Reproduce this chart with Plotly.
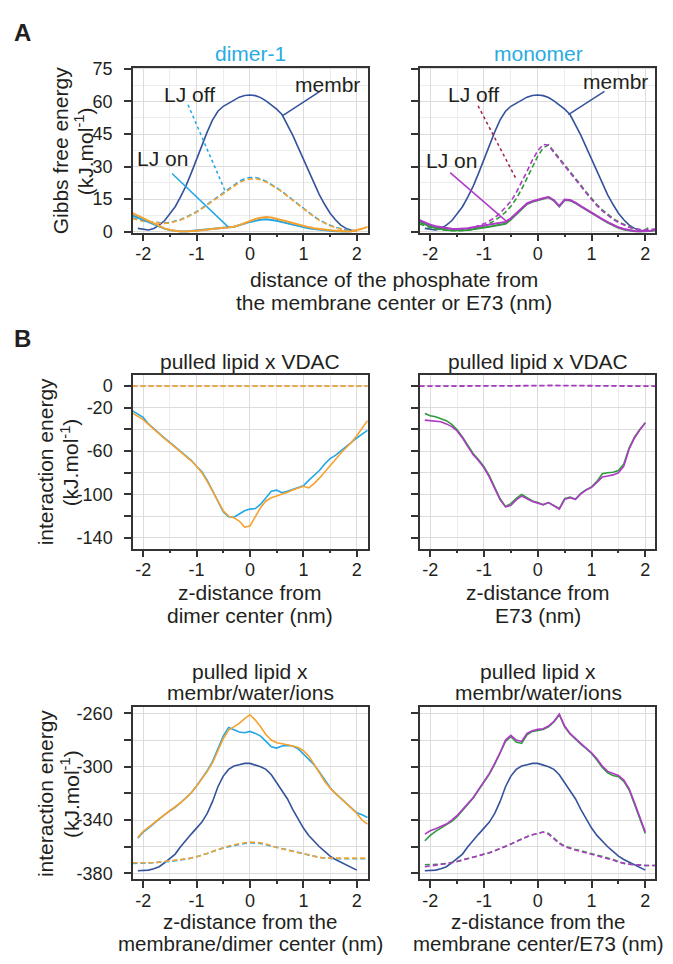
import numpy as np
import plotly.graph_objects as go

# ---- data ----
# panel A, Gibbs free energy (kJ/mol); x grids start at the given value, 0.1 nm step
MEMBR_A_START = -2.1
MEMBR_A = [1.5, 1.0, 0.8, 1.5, 3.0, 5.0, 8.0, 11.5, 16.0, 21.0, 27.0, 33.5, 40.0, 46.0,
           51.5, 55.5, 57.8, 59.3, 60.8, 62.0, 62.8, 63.0, 62.7, 61.8, 60.3, 58.5, 56.5,
           54.0, 49.5, 44.5, 39.0, 33.5, 28.0, 22.5, 17.0, 12.5, 8.5, 5.5, 3.0, 1.5, 0.6, 0.3]

DIMER_OFF_BLUE = [6.3, 5.6, 5.0, 4.6, 4.3, 4.1, 4.0, 4.2, 4.8, 5.6, 6.6, 7.8, 9.2, 10.8,
                  12.6, 14.5, 16.4, 18.2, 19.9, 21.6, 23.2, 24.4, 25.0, 25.0, 24.3, 23.2,
                  21.8, 20.2, 18.5, 16.6, 14.6, 12.6, 10.6, 8.7, 7.0, 5.4, 4.0, 2.9, 2.0,
                  1.3, 0.8, 0.5, 0.4]
DIMER_OFF_ORANGE = [6.1, 5.4, 4.8, 4.4, 4.1, 3.9, 3.8, 4.0, 4.6, 5.4, 6.4, 7.6, 9.0, 10.6,
                    12.3, 14.2, 16.0, 17.8, 19.5, 21.1, 22.6, 23.7, 24.3, 24.4, 23.9, 22.9,
                    21.6, 20.0, 18.3, 16.4, 14.4, 12.4, 10.4, 8.5, 6.8, 5.2, 3.8, 2.7, 1.8,
                    1.1, 0.6, 0.3, 0.2]
DIMER_ON_BLUE = [7.5, 6.6, 5.5, 4.4, 3.3, 2.3, 1.4, 0.7, 0.3, 0.1, 0.1, 0.3, 0.5, 0.8, 1.1,
                 1.4, 1.6, 1.8, 2.0, 2.3, 2.9, 3.7, 4.5, 5.1, 5.5, 5.7, 5.5, 5.0, 4.4, 3.8,
                 3.2, 2.6, 2.1, 1.6, 1.2, 0.9, 0.6, 0.4, 0.2, 0.1, 0.1, 0.1]
DIMER_ON_ORANGE = [8.5, 7.3, 6.0, 4.8, 3.6, 2.5, 1.5, 0.8, 0.3, 0.1, 0.1, 0.2, 0.4, 0.7, 1.0,
                   1.3, 1.6, 1.8, 2.0, 2.3, 3.0, 4.0, 5.0, 5.8, 6.4, 6.7, 6.5, 6.0, 5.4, 4.7,
                   4.0, 3.3, 2.7, 2.1, 1.6, 1.2, 0.9, 0.6, 0.4, 0.2, 0.1, 0.2, 0.6, 1.3, 2.2]

MONO_OFF_PURPLE = [4.5, 3.4, 2.6, 2.0, 1.6, 1.3, 1.1, 1.0, 1.1, 1.4, 1.9, 2.6, 3.6, 4.9, 6.5,
                   8.6, 11.1, 14.0, 18.0, 22.7, 27.8, 33.0, 37.3, 40.2, 39.8, 36.5, 33.5,
                   30.5, 27.3, 24.3, 21.0, 17.8, 14.8, 12.0, 9.6, 7.5, 5.7, 4.2, 3.0, 2.0,
                   1.3, 0.9, 0.8, 1.0, 1.3]
MONO_OFF_GREEN = [3.5, 2.6, 1.9, 1.3, 0.9, 0.6, 0.4, 0.4, 0.5, 0.7, 1.1, 1.7, 2.6, 3.7, 5.1,
                  6.9, 9.0, 11.7, 15.2, 19.6, 24.6, 30.0, 34.8, 38.6, 40.0, 37.0, 34.0, 31.0,
                  27.8, 24.7, 21.5, 18.3, 15.3, 12.5, 10.1, 7.9, 6.1, 4.6, 3.3, 2.2, 1.4,
                  0.9, 0.9, 2.5]
MONO_ON_PURPLE = [5.3, 4.2, 3.2, 2.5, 2.0, 1.6, 1.3, 1.2, 1.3, 1.6, 2.0, 2.4, 2.8, 3.2, 3.6,
                  3.9, 4.5, 6.2, 8.5, 11.0, 13.0, 14.0, 14.8, 15.4, 16.0, 14.5, 11.8, 14.8,
                  14.6, 13.4, 11.8, 10.2, 8.7, 7.2, 5.8, 4.4, 3.1, 2.0, 1.2, 0.6, 0.3, 0.2,
                  0.2, 0.4, 0.8]
MONO_ON_GREEN = [4.5, 3.4, 2.4, 1.7, 1.2, 0.8, 0.6, 0.5, 0.6, 0.8, 1.1, 1.5, 1.9, 2.3, 2.7,
                 3.0, 3.6, 5.6, 8.0, 10.6, 12.7, 13.8, 14.6, 15.2, 15.8, 14.3, 11.6, 14.6,
                 14.4, 13.2, 11.6, 10.0, 8.5, 7.0, 5.6, 4.2, 2.9, 1.8, 1.0, 0.5, 0.2, 0.1,
                 0.1, 0.3, 0.7]

# panel B, pulled lipid x VDAC (kJ/mol)
VDAC_DIMER_BLUE = [-23, -26, -29, -35, -39.5, -44, -48, -52, -56, -60, -64, -68.5, -74, -79,
                   -87, -97, -107, -116, -120.5, -121, -118, -115, -113.5, -113, -109, -103,
                   -97, -96, -98.5, -97, -95.5, -93.5, -92, -87, -82.5, -78, -72, -67, -64,
                   -60, -56, -51.5, -48, -44.5, -41]
VDAC_DIMER_ORANGE = [-25, -28, -31, -35.5, -40, -44.5, -48.5, -52.5, -56.5, -60.5, -64.5, -69,
                     -74, -80, -88, -97, -106, -115, -120, -121.5, -124.5, -130, -129, -121,
                     -112, -106, -103, -101.5, -100, -98, -96, -94, -92.5, -94, -90, -85,
                     -79, -73, -67, -62, -57, -52, -46, -39, -32]
VDAC_MONO_GREEN = [-25.5, -27.5, -28.5, -30, -32, -35.5, -40.5, -47, -55, -62.5, -68, -74.5,
                   -83, -93, -104, -111, -108.5, -103.5, -100, -103, -106, -107.5, -109.5,
                   -107.5, -110, -113, -104, -102.5, -104.5, -99, -95.5, -93, -88, -81, -80,
                   -79.5, -78, -72, -57, -47, -40, -34]
VDAC_MONO_PURPLE = [-31.5, -32, -32.5, -33, -35, -37.5, -41.5, -48, -56, -63.5, -69, -75.5,
                    -84, -94, -105, -111.5, -110, -105, -101.5, -104, -106.5, -108, -109.5,
                    -107.5, -110.5, -113.5, -104.5, -103, -104.5, -99.5, -96, -93.5, -89,
                    -84, -83, -82, -80, -74, -58, -48, -40.5, -34]
# LJ-off curves stay at ~0
VDAC_DASH_X = [-2.2, -1.6, -1.0, -0.5, 0.0, 0.2, 0.5, 1.0, 1.6, 2.2]
VDAC_DIMER_DASH = [-0.3, -0.3, -0.4, -0.5, -0.5, -0.5, -0.4, -0.3, -0.3, -0.3]
VDAC_MONO_DASH = [-0.3, -0.3, -0.2, -0.1, 0.2, 0.4, 0.2, -0.1, -0.2, -0.3]

# panel B, pulled lipid x membr/water/ions (kJ/mol)
ENV_MEMBR = [-378, -378, -377.5, -376.5, -375, -372, -369, -365.5, -360, -355, -350.5, -346,
             -341.5, -335, -326, -315, -307, -302, -299.5, -298.5, -297.5, -297.5, -298.5,
             -300, -302, -306, -312, -318, -324, -332, -339, -346, -351.5, -356, -360,
             -363.5, -367, -369.5, -371.5, -373.5, -376, -377.5]
ENV_DIMER_BLUE = [-353.5, -349, -346, -342.5, -339, -336, -333, -330.5, -327, -323.5, -319.5,
                  -314.5, -309, -303, -296, -286.5, -277, -270.5, -272, -274, -274.5, -273.5,
                  -275, -277, -281, -285, -286, -284.5, -284, -284.5, -286.5, -290.5, -294,
                  -298.5, -304, -310, -315.5, -320, -323.5, -327, -331, -334.5, -336, -338]
ENV_DIMER_ORANGE = [-353, -348.5, -345.5, -342, -339, -336, -333, -330.5, -327, -323.5,
                    -319.5, -314.5, -309, -303.5, -297, -288, -279, -272.5, -270, -267.5,
                    -264, -261, -265, -270, -276, -280, -282, -282.5, -283.5, -284.5, -285.5,
                    -288, -292, -298, -305, -311, -316, -320, -324, -327.5, -331, -335, -340,
                    -343]
ENV_DIMER_DASH_BLUE = [-372.5, -372.5, -372.5, -372.5, -372, -371.5, -371.5, -371, -370.5,
                       -370, -369.5, -368.5, -367.5, -366.5, -365, -363.5, -362, -361, -360,
                       -359, -358, -357.5, -357, -357, -357.5, -358.5, -359.5, -360.5, -361.5,
                       -362.5, -363.5, -364.5, -365.5, -366.5, -367.5, -368, -368.5, -369,
                       -369, -369, -369, -369, -369, -369, -369]
ENV_DIMER_DASH_ORANGE = [-372, -372, -372.5, -372.5, -372, -371.5, -371, -371, -370.5, -370,
                         -369.5, -368.5, -367.5, -366.5, -365, -363.5, -362, -360.5, -359.5,
                         -358.5, -357.5, -357, -356.5, -356.5, -357, -358, -359.5, -360.5,
                         -361.5, -362.5, -363.5, -364.5, -365.5, -366.5, -367.5, -368, -368.5,
                         -368.5, -368.5, -368.5, -368.5, -368.5, -368.5, -368.5, -368.5]
ENV_MONO_GREEN = [-355.5, -351.5, -348.5, -346, -344, -341, -337.5, -333, -328.5, -323.5,
                  -317.5, -311.5, -305.5, -298, -290, -281, -277.5, -281.5, -282.5, -276,
                  -273.5, -272.5, -272, -270, -266.5, -261, -270, -275.5, -279.5, -283,
                  -286.5, -290, -295, -300.5, -304.5, -306.5, -307.5, -311, -317.5, -328,
                  -339, -350]
ENV_MONO_PURPLE = [-350.5, -348, -346.5, -345, -343, -340, -336.5, -332, -327.5, -323, -317,
                   -311, -305, -297.5, -289.5, -280, -276.5, -280, -281, -275, -273, -272,
                   -271.5, -269.5, -266, -260.5, -269.5, -275, -279, -282.5, -286, -289.5,
                   -294, -299.5, -303.5, -305, -306.5, -310, -316.5, -327, -338, -349]
ENV_MONO_DASH_GREEN = [-373.5, -373.5, -373.5, -373, -372.5, -372, -371, -370, -369, -368,
                       -367, -366, -364.5, -363, -361.5, -360, -358, -356, -354, -352.5, -351,
                       -350, -349, -350, -353.5, -357, -359.5, -361, -362, -363, -364, -365,
                       -366, -367, -368, -369.5, -371, -372.5, -373, -373.5, -374, -374,
                       -374, -374]
ENV_MONO_DASH_PURPLE = [-375, -374.5, -374, -373.5, -373, -372, -371, -370, -369, -368, -367,
                        -366, -364.5, -363, -361.5, -360, -358, -356, -354, -352.5, -351,
                        -350, -349, -350.5, -354, -357.5, -360, -361.5, -362.5, -363.5,
                        -364.5, -365.5, -366.5, -367.5, -368.5, -370, -371.5, -372.5, -373,
                        -373.5, -374, -374, -374, -374]

X_TICKS = [-2, -1, 0, 1, 2]
X_MINOR = [-1.5, -0.5, 0.5, 1.5]
A_TICKS = [0, 15, 30, 45, 60, 75]
A_MINOR = [7.5, 22.5, 37.5, 52.5, 67.5]
VDAC_TICKS = [0, -20, -60, -100, -140]      # labelled
VDAC_UNLABELLED = [-40, -80, -120]          # tick + grid, no label
ENV_TICKS = [-260, -300, -340, -380]
ENV_UNLABELLED = [-280, -320, -360]

# ---- style ----
W, H = 673, 964
FONT = 'Liberation Sans, Arial, sans-serif'
INK = '#231f20'
AXIS = '#333333'
GRID = '#dcdcdc'
GRID_MINOR = '#ececec'
MEMBR_COLOR = '#34539c'
BLUE = '#22a6e6'
ORANGE = '#f7a12f'
PURPLE = '#b03ac8'
GREEN = '#2f9a3b'
MAROON = '#a3204d'
TITLE_BLUE = '#29abe2'
TITLE_SIZE = 21
TICK_SIZE = 18

COL_L, COL_R = (133, 368), (420, 655)
ROW_A, ROW_B1, ROW_B2 = (60, 228), (373, 550), (711, 887)


def xs(start, vals, step=0.1):
    return np.round(start + step * np.arange(len(vals)), 2)


def px(x, y):
    return x / W, 1 - y / H


def xdom(col):
    return [col[0] / W, col[1] / W]


def ydom(row):
    return [1 - row[1] / H, 1 - row[0] / H]


fig = go.Figure()


def line(n, x, y, color, dash='solid', width=1.6):
    sfx = '' if n == 1 else str(n)
    fig.add_trace(go.Scatter(x=x, y=y, mode='lines', xaxis='x' + sfx, yaxis='y' + sfx,
                             line=dict(color=color, width=width, dash=dash),
                             hoverinfo='skip', showlegend=False))


DASH = '5px,3px'

# A left: dimer-1
line(1, xs(MEMBR_A_START, MEMBR_A), MEMBR_A, MEMBR_COLOR)
line(1, xs(-2.2, DIMER_OFF_BLUE), DIMER_OFF_BLUE, BLUE, DASH)
line(1, xs(-2.2, DIMER_OFF_ORANGE), DIMER_OFF_ORANGE, ORANGE, DASH)
line(1, xs(-2.2, DIMER_ON_BLUE), DIMER_ON_BLUE, BLUE, width=2)
line(1, xs(-2.2, DIMER_ON_ORANGE), DIMER_ON_ORANGE, ORANGE, width=2)

# A right: monomer
line(2, xs(MEMBR_A_START, MEMBR_A), MEMBR_A, MEMBR_COLOR)
line(2, xs(-2.2, MONO_OFF_GREEN), MONO_OFF_GREEN, GREEN, DASH)
line(2, xs(-2.2, MONO_OFF_PURPLE), MONO_OFF_PURPLE, PURPLE, DASH)
line(2, xs(-2.2, MONO_ON_GREEN), MONO_ON_GREEN, GREEN, width=2)
line(2, xs(-2.2, MONO_ON_PURPLE), MONO_ON_PURPLE, PURPLE, width=2)

# B top (LJ-off: the second colour sits exactly on the first)
line(3, VDAC_DASH_X, VDAC_DIMER_DASH, BLUE, DASH, width=1)
line(3, VDAC_DASH_X, VDAC_DIMER_DASH, ORANGE, DASH, width=1.8)
line(3, xs(-2.2, VDAC_DIMER_BLUE), VDAC_DIMER_BLUE, BLUE)
line(3, xs(-2.2, VDAC_DIMER_ORANGE), VDAC_DIMER_ORANGE, ORANGE)
line(4, VDAC_DASH_X, VDAC_MONO_DASH, GREEN, DASH, width=1)
line(4, VDAC_DASH_X, VDAC_MONO_DASH, PURPLE, DASH, width=1.8)
line(4, xs(-2.1, VDAC_MONO_GREEN), VDAC_MONO_GREEN, GREEN)
line(4, xs(-2.1, VDAC_MONO_PURPLE), VDAC_MONO_PURPLE, PURPLE)

# B bottom
line(5, xs(-2.1, ENV_MEMBR), ENV_MEMBR, MEMBR_COLOR)
line(5, xs(-2.2, ENV_DIMER_DASH_BLUE), ENV_DIMER_DASH_BLUE, BLUE, DASH)
line(5, xs(-2.2, ENV_DIMER_DASH_ORANGE), ENV_DIMER_DASH_ORANGE, ORANGE, DASH)
line(5, xs(-2.1, ENV_DIMER_BLUE), ENV_DIMER_BLUE, BLUE)
line(5, xs(-2.1, ENV_DIMER_ORANGE), ENV_DIMER_ORANGE, ORANGE)
line(6, xs(-2.1, ENV_MEMBR), ENV_MEMBR, MEMBR_COLOR)
line(6, xs(-2.1, ENV_MONO_DASH_GREEN), ENV_MONO_DASH_GREEN, GREEN, DASH)
line(6, xs(-2.1, ENV_MONO_DASH_PURPLE), ENV_MONO_DASH_PURPLE, PURPLE, DASH)
line(6, xs(-2.1, ENV_MONO_GREEN), ENV_MONO_GREEN, GREEN)
line(6, xs(-2.1, ENV_MONO_PURPLE), ENV_MONO_PURPLE, PURPLE)


def axis_common():
    return dict(showline=True, linecolor=AXIS, linewidth=1.5, mirror=True,
                ticks='outside', ticklen=7, tickwidth=1.5, tickcolor=AXIS,
                showgrid=True, gridcolor=GRID, gridwidth=1, zeroline=False,
                tickfont=dict(family=FONT, size=TICK_SIZE, color=INK), fixedrange=True)


def x_axis(col, row_anchor, rng):
    d = axis_common()
    d.update(domain=xdom(col), anchor=row_anchor, range=rng,
             tickvals=X_TICKS, ticktext=[str(v) for v in X_TICKS], ticklabelstandoff=-3,
             minor=dict(tickvals=X_MINOR, ticks='outside', ticklen=3,
                        tickcolor=AXIS, showgrid=True, gridcolor=GRID_MINOR))
    return d


def y_axis(row, col_anchor, rng, vals, show, minor_vals, minor_ticks):
    d = axis_common()
    d.update(domain=ydom(row), anchor=col_anchor, range=rng, tickvals=vals,
             ticktext=[str(v) for v in vals], showticklabels=show, ticklabelstandoff=8)
    if minor_ticks:
        # unlabelled ticks look like the labelled ones
        d['minor'] = dict(tickvals=minor_vals, ticks='outside', ticklen=7, tickwidth=1.5,
                          tickcolor=AXIS, showgrid=True, gridcolor=GRID)
    else:
        d['minor'] = dict(tickvals=minor_vals, ticks='', showgrid=True, gridcolor=GRID_MINOR)
    return d


XL, XR = [-2.19, 2.21], [-2.19, 2.18]
RA, RB1, RB2 = [-0.5, 75.5], [-150, 10], [-384.5, -255]
fig.update_layout(
    xaxis=x_axis(COL_L, 'y', XL),
    xaxis2=x_axis(COL_R, 'y2', XR),
    xaxis3=x_axis(COL_L, 'y3', XL),
    xaxis4=x_axis(COL_R, 'y4', XR),
    xaxis5=x_axis(COL_L, 'y5', XL),
    xaxis6=x_axis(COL_R, 'y6', XR),
    yaxis=y_axis(ROW_A, 'x', RA, A_TICKS, True, A_MINOR, False),
    yaxis2=y_axis(ROW_A, 'x2', RA, A_TICKS, False, A_MINOR, False),
    yaxis3=y_axis(ROW_B1, 'x3', RB1, VDAC_TICKS, True, VDAC_UNLABELLED, True),
    yaxis4=y_axis(ROW_B1, 'x4', RB1, VDAC_TICKS, False, VDAC_UNLABELLED, True),
    yaxis5=y_axis(ROW_B2, 'x5', RB2, ENV_TICKS, True, ENV_UNLABELLED, True),
    yaxis6=y_axis(ROW_B2, 'x6', RB2, ENV_TICKS, False, ENV_UNLABELLED, True),
)

# ---- text ----
annotations = []


def text(x, y, s, size=TITLE_SIZE, color=INK, angle=0, bold=False):
    fx, fy = px(x, y)
    font = dict(family=FONT, size=size, color=color)
    if bold:
        font['weight'] = 'bold'
    annotations.append(dict(x=fx, y=fy, xref='paper', yref='paper', text=s, showarrow=False,
                            xanchor='center', yanchor='middle', textangle=angle, font=font))


text(22, 24, 'A', size=24, bold=True)
text(22, 336, 'B', size=24, bold=True)
text(250, 45, 'dimer-1', color=TITLE_BLUE)
text(538, 45, 'monomer', color=TITLE_BLUE)
text(60, 145, 'Gibbs free energy', angle=-90)
text(84, 145, '(kJ.mol<sup>-1</sup>)', angle=-90)
text(394, 276, 'distance of the phosphate from')
text(394, 299, 'the membrane center or E73 (nm)')

for cx in (250, 538):
    text(cx, 359, 'pulled lipid x VDAC')
    text(cx, 675, 'pulled lipid x')
    text(cx, 697, 'membr/water/ions')
for cy in (462, 800):
    text(45, cy, 'interaction energy', angle=-90)
    text(70, cy, '(kJ.mol<sup>-1</sup>)', angle=-90)
text(250, 595, 'z-distance from')
text(250, 618, 'dimer center (nm)')
text(538, 595, 'z-distance from')
text(538, 618, 'E73 (nm)')
# last two lines sit right at the bottom edge, as in the reference
BOTTOM_SIZE = 20.5
text(250, 930, 'z-distance from the', size=BOTTOM_SIZE)
text(250, 952.5, 'membrane/dimer center (nm)', size=BOTTOM_SIZE)
text(538, 930, 'z-distance from the', size=BOTTOM_SIZE)
text(538, 952.5, 'membrane center/E73 (nm)', size=BOTTOM_SIZE)

# curve labels in panel A (data coords) with leader lines
LABELS = {
    1: [('membr', 1.46, 68.0, (1.31, 64.7, 0.62, 53.6), MEMBR_COLOR, 'solid'),
        ('LJ off', -1.14, 63.4, (-1.16, 58.5, -0.45, 17.9), BLUE, 'dot'),
        ('LJ on', -1.63, 33.5, (-1.46, 26.8, -0.41, 2.2), BLUE, 'solid')],
    2: [('membr', 1.44, 69.0, (1.24, 64.7, 0.57, 54.0), MEMBR_COLOR, 'solid'),
        ('LJ off', -1.19, 63.4, (-1.11, 58.0, -0.39, 23.7), MAROON, 'dot'),
        ('LJ on', -1.61, 32.6, (-1.63, 27.2, -0.57, 4.5), PURPLE, 'solid')],
}
shapes = []
for n, items in LABELS.items():
    sfx = '' if n == 1 else str(n)
    for label, tx, ty, (x0, y0, x1, y1), color, dash in items:
        annotations.append(dict(x=tx, y=ty, xref='x' + sfx, yref='y' + sfx, text=label,
                                showarrow=False, xanchor='center', yanchor='middle',
                                font=dict(family=FONT, size=TITLE_SIZE, color=INK)))
        shapes.append(dict(type='line', xref='x' + sfx, yref='y' + sfx,
                           x0=x0, y0=y0, x1=x1, y1=y1,
                           line=dict(color=color, width=1.5, dash=dash)))

fig.update_layout(
    width=W, height=H, autosize=False,
    margin=dict(l=0, r=0, t=0, b=0),
    paper_bgcolor='white', plot_bgcolor='white',
    font=dict(family=FONT, color=INK),
    showlegend=False,
    annotations=annotations,
    shapes=shapes,
)

# the page body has a default 8px margin; pin the page to exactly the figure size
PAGE_CSS = ("var s=document.createElement('style');"
            "s.textContent='html,body{margin:0;padding:0;overflow:hidden;"
            "width:673px;height:964px;}';"
            "document.head.appendChild(s);")
fig.write_html("out.html", config={'displayModeBar': False}, post_script=PAGE_CSS)
